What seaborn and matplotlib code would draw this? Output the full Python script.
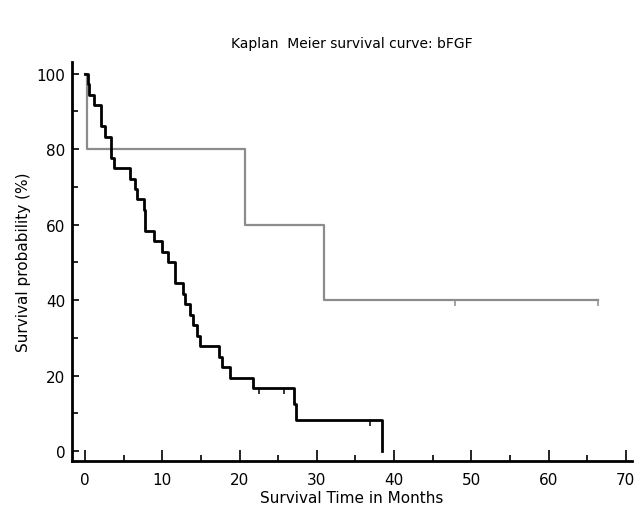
import numpy as np
import pandas as pd
import seaborn as sns
import matplotlib.pyplot as plt
from matplotlib.ticker import MultipleLocator

# Datos (meses)
# Grupo 1 (negro): muertes y censurados
black_times = [0.35, 0.55, 1.1, 2.1, 2.1, 2.6, 3.4, 3.4, 3.8, 5.8, 6.5, 6.7, 7.6, 7.8, 7.8,
               8.9, 10.0, 10.7, 11.7, 11.7, 12.7, 13.0, 13.6, 14.0, 14.5, 14.9, 17.3, 17.7,
               18.7, 21.7, 22.5, 25.8, 27.0, 27.3, 36.9, 38.4]
black_events = [1, 1, 1, 1, 1, 1, 1, 1, 1, 1, 1, 1, 1, 1, 1,
                1, 1, 1, 1, 1, 1, 1, 1, 1, 1, 1, 1, 1,
                1, 1, 0, 0, 1, 1, 0, 1]

# Grupo 2 (gris)
gray_times = [0.25, 20.7, 30.9, 47.9, 66.4]
gray_events = [1, 1, 1, 0, 0]


def kaplan_meier(times, events):
    df = pd.DataFrame({'t': times, 'e': events}).sort_values('t')
    n = len(df)
    s = 100.0
    steps_t, steps_s = [0.0], [100.0]
    cens_t, cens_s = [], []
    for t, g in df.groupby('t', sort=True):
        d = g['e'].sum()
        c = len(g) - d
        if d > 0:
            s = s * (n - d) / n
            steps_t.append(t)
            steps_s.append(s)
        if c > 0:
            cens_t.append(t)
            cens_s.append(s)
        n -= len(g)
    if steps_t[-1] < df['t'].max():
        steps_t.append(df['t'].max())
        steps_s.append(s)
    return steps_t, steps_s, cens_t, cens_s


fig = plt.figure(figsize=(6.38, 5.10), dpi=100)
ax = fig.add_axes([0.1133, 0.0935, 0.8773, 0.783])

curves = [(gray_times, gray_events, '#8c8c8c', 1.6),
          (black_times, black_events, 'black', 2.0)]
for times, events, color, lw in curves:
    st, ss, ct, cs = kaplan_meier(times, events)
    sns.lineplot(x=st, y=ss, ax=ax, color=color, linewidth=lw,
                 drawstyle='steps-post', estimator=None, sort=False)
    sns.lineplot(x=ct, y=cs, ax=ax, color=color, linestyle='', marker=3,
                 markersize=4.5, markeredgewidth=1.1, markeredgecolor=color,
                 markerfacecolor=color, estimator=None, sort=False)

ax.set_xlim(-1.65, 70.8)
ax.set_ylim(-2.7, 103.1)
ax.xaxis.set_major_locator(MultipleLocator(10))
ax.xaxis.set_minor_locator(MultipleLocator(5))
ax.yaxis.set_major_locator(MultipleLocator(20))
ax.yaxis.set_minor_locator(MultipleLocator(10))
ax.tick_params(which='both', direction='in', width=1.2, color='black')
ax.tick_params(axis='x', which='major', length=8, pad=8, labelsize=11)
ax.tick_params(axis='x', which='minor', length=4)
ax.tick_params(axis='y', which='major', length=5, pad=5, labelsize=11)
ax.tick_params(axis='y', which='minor', length=4)

for side in ['top', 'right']:
    ax.spines[side].set_visible(False)
for side in ['left', 'bottom']:
    ax.spines[side].set_linewidth(2)
    ax.spines[side].set_color('black')

ax.set_title('Kaplan  Meier survival curve: bFGF', fontsize=10, pad=11)
ax.set_xlabel('Survival Time in Months', fontsize=11, labelpad=2)
ax.set_ylabel('Survival probability (%)', fontsize=11, labelpad=4)

fig.savefig('out.png', dpi=100)
